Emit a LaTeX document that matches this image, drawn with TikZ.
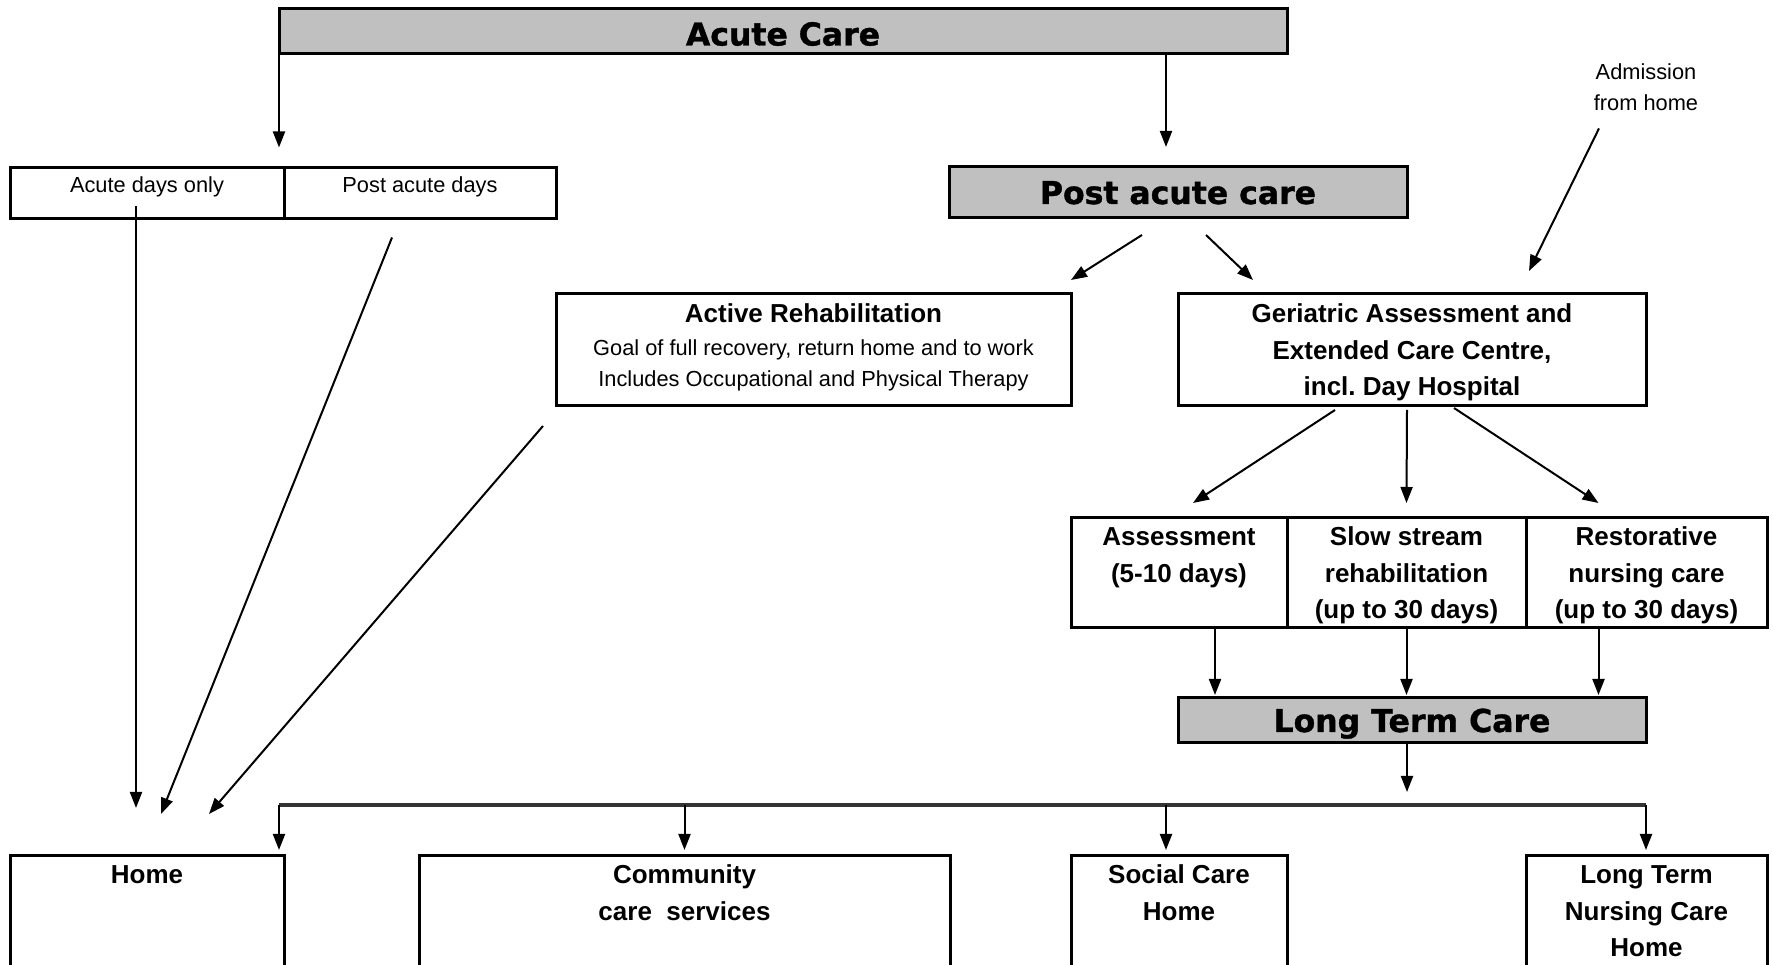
\documentclass[tikz,border=0pt]{standalone}
\usepackage{fontspec}
\setmainfont{Liberation Sans}
\newfontfamily\headfont[FakeBold=1.2]{DejaVu Sans Bold}
\usetikzlibrary{arrows.meta,positioning}
\definecolor{headgray}{HTML}{C0C0C0}

\begin{document}
\begin{tikzpicture}[x=1pt,y=1pt,>={Triangle[length=16pt,width=12pt]},
	every node/.style={outer sep=0pt},
	headbox/.style={draw,line width=3pt,fill=headgray,inner sep=0pt,
		font=\fontsize{31.5}{36}\headfont,text height=23pt,text depth=0pt},
	plainbox/.style={draw,line width=3pt,inner sep=0pt,align=center,anchor=north,
		font=\fontsize{21.8}{30.5}\selectfont},
	boldbox/.style={plainbox,font=\fontsize{26}{36.5}\selectfont\bfseries},
	link/.style={->,line width=2pt},
	bus/.style={line width=3.5pt,black!80}]
	\useasboundingbox (0,0) rectangle (1773,965);

	% top level
	\node[headbox,minimum width=1008pt,minimum height=45pt,text height=28pt] (acute) at (783,933.5) {Acute Care};
	\node[plainbox,minimum width=274pt,text height=25pt,text depth=26pt] (acuteonly) at (147,797.5) {Acute days only};
	\node[plainbox,minimum width=272pt,text height=25pt,text depth=26pt] (postdays) [right=0pt of acuteonly] {Post acute days};
	\node[headbox,minimum width=458pt,minimum height=51pt] (postcare) at (1178,772.5) {Post acute care};
	\node[align=center,anchor=north,inner sep=0pt,font=\fontsize{21.8}{31}\selectfont] (admit) at (1646,901.6) {Admission\\from home};

	% post acute
	\node[plainbox,minimum width=515pt,text height=92.3pt,text depth=19.7pt] (rehab) at (813.5,671)
		{{\bfseries\fontsize{26}{29}\selectfont Active Rehabilitation}\\[2.3pt]Goal of full recovery, return home and to work\\Includes Occupational and Physical Therapy};
	\node[boldbox,minimum width=468pt,text height=102pt,text depth=10pt] (geriatric) at (1412,671)
		{Geriatric Assessment and\\Extended Care Centre,\\incl.\ Day Hospital};
	\node[boldbox,minimum width=216pt,text height=64.5pt,text depth=45.5pt] (assess) at (1179,447) {Assessment\\(5-10 days)};
	\node[boldbox,minimum width=239pt,text height=101pt,text depth=9pt] (slowstream) [right=0pt of assess] {Slow stream\\rehabilitation\\(up to 30 days)};
	\node[boldbox,minimum width=241pt,text height=101pt,text depth=9pt] (restore) [right=0pt of slowstream] {Restorative\\nursing care\\(up to 30 days)};
	\node[headbox,minimum width=468pt,minimum height=45pt] (ltc) at (1412,244.5) {Long Term Care};

	% destinations
	\node[boldbox,minimum width=274pt,text height=28pt,text depth=150pt] (home) at (147,109) {Home};
	\node[boldbox,minimum width=531pt,text height=64.5pt,text depth=150pt] (community) at (684.5,109) {Community\\care\ \ services};
	\node[boldbox,minimum width=216pt,text height=64.5pt,text depth=150pt] (social) at (1179,109) {Social Care\\Home};
	\node[boldbox,minimum width=241pt,text height=101pt,text depth=150pt] (ltnursing) at (1646.5,109) {Long Term\\Nursing Care\\Home};

	\coordinate (busL) at (279,160);
	\coordinate (busR) at (1646,160);
	\draw[bus] (busL) -- (busR);

	\path[link]
		(acute.south west) edge[shorten >=20pt] (acute.south west |- acuteonly.north)
		([xshift=-12pt]postcare.north |- acute.south) edge[shorten >=20pt] ([xshift=-12pt]postcare.north)
		([shift={(-47,-18)}]admit.south) edge ([shift={(-117,23)}]geriatric.north east)
		([shift={(-36,-17)}]postcare.south) edge ([shift={(0,14)}]rehab.north east)
		([shift={(28,-17)}]postcare.south) edge ([shift={(75,14)}]geriatric.north west)
		([shift={(-77,-4)}]geriatric.south) edge ([shift={(14,15)}]assess.north)
		([shift={(-5,-4)}]geriatric.south) edge ([shift={(0,15)}]slowstream.north)
		([shift={(42,-2)}]geriatric.south) edge ([shift={(-48,15)}]restore.north)
		([xshift=36pt]assess.south) edge[shorten >=3pt] ([xshift=36pt]assess.south |- ltc.north)
		(slowstream.south) edge[shorten >=3pt] (slowstream.south |- ltc.north)
		([xshift=-48pt]restore.south) edge[shorten >=3pt] ([xshift=-48pt]restore.south |- ltc.north)
		([xshift=-5pt]ltc.south) edge[shorten >=13pt] ([xshift=-5pt]ltc.south |- busL)
		(busL) edge[shorten >=6pt] (busL |- home.north)
		(busL -| community.north) edge[shorten >=6pt] (community.north)
		([xshift=-13pt]busL -| social.north) edge[shorten >=6pt] ([xshift=-13pt]social.north)
		(busR) edge[shorten >=6pt] (busR |- ltnursing.north)
		([shift={(-11,12)}]acuteonly.south) edge ([shift={(-11,48)}]home.north)
		([shift={(-28,-19)}]postdays.south) edge ([shift={(14,42)}]home.north)
		([shift={(-13,-20)}]rehab.south west) edge ([shift={(62,42)}]home.north);
\end{tikzpicture}
\end{document}
